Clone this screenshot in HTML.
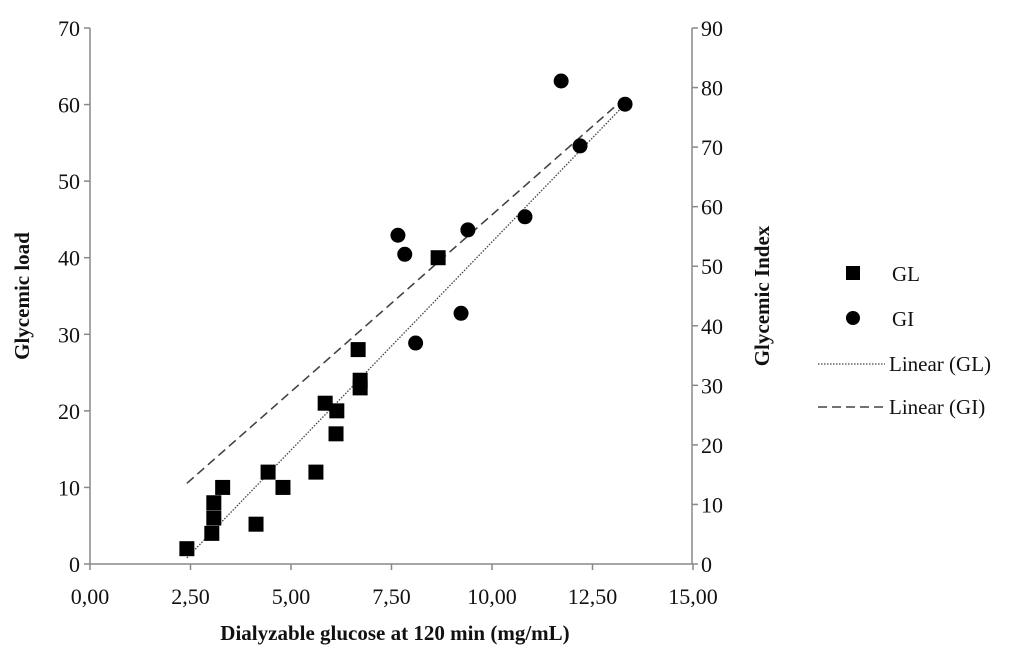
<!DOCTYPE html>
<html><head><meta charset="utf-8"><style>
body{margin:0;background:#fff;}
svg text{font-family:"Liberation Serif",serif;fill:#111;}
</style></head><body>
<svg id="chart" width="1024" height="654" viewBox="0 0 1024 654" xmlns="http://www.w3.org/2000/svg">
<g id="axes"></g><g id="trends"></g><g id="marks"></g>
<text x="395" y="640" text-anchor="middle" font-size="21" font-weight="bold">Dialyzable glucose at 120 min (mg/mL)</text>
<text transform="translate(29,296) rotate(-90)" text-anchor="middle" font-size="21" font-weight="bold">Glycemic load</text>
<text transform="translate(769,296) rotate(-90)" text-anchor="middle" font-size="21" font-weight="bold">Glycemic Index</text>
<g>
<rect x="846" y="266" width="14" height="14" fill="#000"/>
<text x="892" y="281" font-size="21">GL</text>
<circle cx="853" cy="318" r="7" fill="#000"/>
<text x="892" y="326" font-size="21">GI</text>
<line x1="818" y1="364" x2="885" y2="364" stroke="#444" stroke-width="1.3" stroke-dasharray="1.5 1.5"/>
<text x="889" y="371" font-size="21">Linear (GL)</text>
<line x1="818" y1="407" x2="885" y2="407" stroke="#444" stroke-width="1.6" stroke-dasharray="9 5"/>
<text x="889" y="414" font-size="21">Linear (GI)</text>
</g>
</svg>
<script>
const glX=[2.41,3.03,3.08,3.08,3.3,4.13,4.43,4.8,5.62,5.85,6.14,6.12,6.67,6.72,6.72,8.66];
const glY=[2,4,6,8,10,5.2,12,10,12,21,20,17,28,24,23,40];
const giX=[7.66,7.83,8.1,9.23,9.4,10.82,11.72,12.19,13.31];
const giY=[55.2,52,37.1,42.1,56.1,58.3,81.1,70.2,77.2];
const xTicks=["0,00","2,50","5,00","7,50","10,00","12,50","15,00"];
const yTicks=[0,10,20,30,40,50,60,70];
const y2Ticks=[0,10,20,30,40,50,60,70,80,90];
const NS="http://www.w3.org/2000/svg";
const X0=90,X1=693,Y0=564,Y1=28;
const sx=v=>X0+(X1-X0)*v/15;
const sy=v=>Y0-(Y0-Y1)*v/70;
const sy2=v=>Y0-(Y0-Y1)*v/90;
function mk(t,a,p){const e=document.createElementNS(NS,t);for(const k in a)e.setAttribute(k,a[k]);p.appendChild(e);return e;}
const ax=document.getElementById('axes'),tr=document.getElementById('trends'),mg=document.getElementById('marks');
let e;
e=mk('line',{x1:X0,y1:Y0,x2:X1,y2:Y0,stroke:'#888','stroke-width':1.5},ax);


e=mk('line',{x1:X0,y1:Y1,x2:X0,y2:Y0,stroke:'#888','stroke-width':1.5},ax);


e=mk('line',{x1:X1-1,y1:Y1,x2:X1-1,y2:Y0,stroke:'#888','stroke-width':1.5},ax);


xTicks.forEach((t,i)=>{const x=sx(i*2.5);
 mk('line',{x1:x,y1:Y0,x2:x,y2:Y0+6,stroke:'#888','stroke-width':1.5},ax);
 e=mk('text',{x:x,y:Y0+40,'text-anchor':'middle','font-size':22},ax);e.textContent=t;
 
 });
yTicks.forEach(v=>{const y=sy(v);
 mk('line',{x1:X0-6,y1:y,x2:X0,y2:y,stroke:'#888','stroke-width':1.5},ax);
 e=mk('text',{x:X0-10,y:y+8,'text-anchor':'end','font-size':22},ax);e.textContent=v;
 
 });
y2Ticks.forEach(v=>{const y=sy2(v);
 mk('line',{x1:X1-1,y1:y,x2:X1+5,y2:y,stroke:'#888','stroke-width':1.5},ax);
 e=mk('text',{x:X1+8,y:y+8,'text-anchor':'start','font-size':22},ax);e.textContent=v;
 
 });
function fit(xs,ys){const n=xs.length;let mx=0,my=0;for(let i=0;i<n;i++){mx+=xs[i];my+=ys[i];}mx/=n;my/=n;let a=0,b=0;for(let i=0;i<n;i++){a+=(xs[i]-mx)*(ys[i]-my);b+=(xs[i]-mx)**2;}const s=a/b;return [s,my-s*mx];}
const all=glX.concat(giX);const xmin=Math.min(...all),xmax=Math.max(...all);
let f=fit(glX,glY);
e=mk('line',{x1:sx(xmin),y1:sy(f[0]*xmin+f[1]),x2:sx(xmax),y2:sy(f[0]*xmax+f[1]),stroke:'#444','stroke-width':1.3,'stroke-dasharray':'1.5 1.5'},tr);


f=fit(giX,giY);
e=mk('line',{x1:sx(xmin),y1:sy2(f[0]*xmin+f[1]),x2:sx(xmax),y2:sy2(f[0]*xmax+f[1]),stroke:'#444','stroke-width':1.6,'stroke-dasharray':'9 5'},tr);


glX.forEach((x,i)=>{e=mk('rect',{x:sx(x)-7.5,y:sy(glY[i])-7.5,width:15,height:15,fill:'#000'},mg);
 
 });
giX.forEach((x,i)=>{e=mk('circle',{cx:sx(x),cy:sy2(giY[i]),r:7.5,fill:'#000'},mg);
 
 });
</script>
</body></html>
